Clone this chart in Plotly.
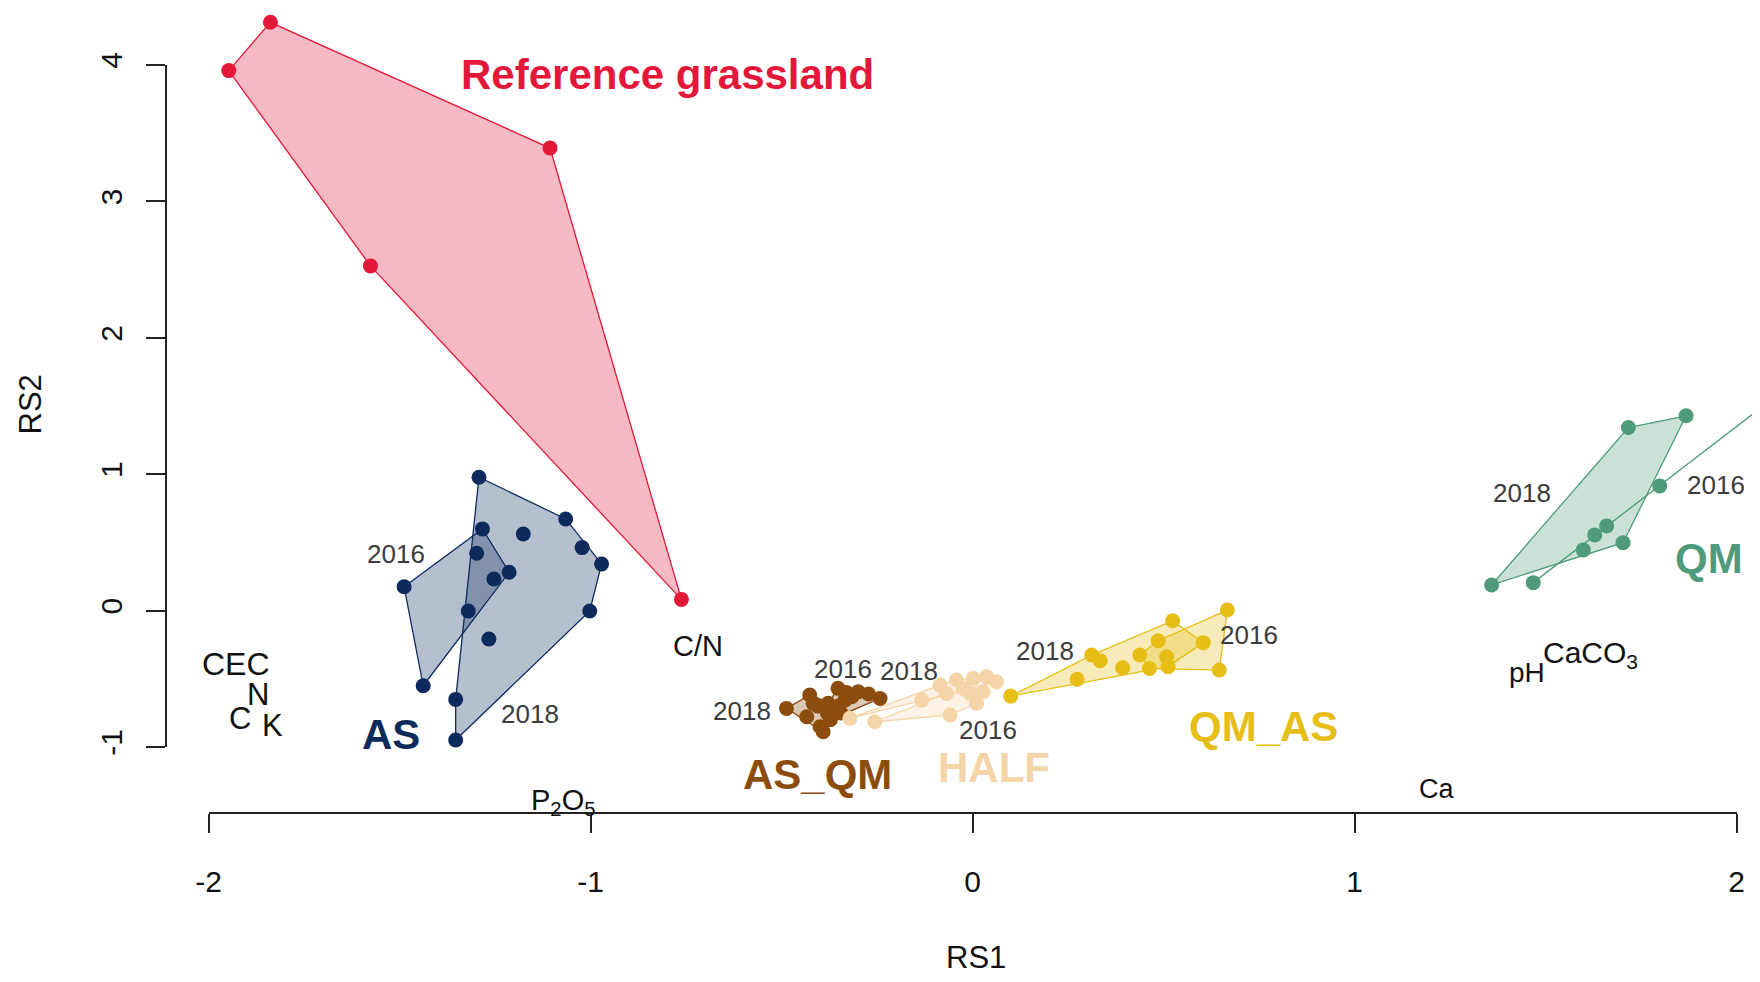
import plotly.graph_objects as go

# ------------------------------------------------------------------ data
REF_X = [-1.838, -1.947, -1.106, -1.576, -0.762]
REF_Y = [4.313, 3.959, 3.391, 2.527, 0.082]

AS16_X = [-1.488, -1.283, -1.213, -1.438, -1.298, -1.253, -1.320]
AS16_Y = [0.175, 0.599, 0.281, -0.551, 0.420, 0.232, -0.003]
AS18_X = [-1.292, -1.065, -1.176, -1.022, -0.971, -1.002, -1.266, -1.353, -1.353]
AS18_Y = [0.978, 0.672, 0.562, 0.462, 0.342, -0.003, -0.208, -0.651, -0.949]

ASQM16_X = [-0.352, -0.299, -0.242, -0.334, -0.378, -0.316, -0.372, -0.330, -0.272, -0.345]
ASQM16_Y = [-0.570, -0.595, -0.644, -0.656, -0.680, -0.632, -0.800, -0.600, -0.612, -0.750]
ASQM18_X = [-0.487, -0.426, -0.434, -0.399, -0.365, -0.417, -0.391, -0.405, -0.380, -0.350]
ASQM18_Y = [-0.717, -0.619, -0.778, -0.852, -0.729, -0.680, -0.888, -0.700, -0.750, -0.700]

HALF16_X = [-0.256, -0.059, 0.011, -0.007, 0.028, -0.068]
HALF16_Y = [-0.815, -0.766, -0.680, -0.607, -0.595, -0.607]
HALF18_X = [-0.321, -0.133, -0.085, -0.042, 0.002, 0.037, 0.063, -0.024]
HALF18_Y = [-0.790, -0.656, -0.546, -0.509, -0.497, -0.485, -0.522, -0.570]

QMAS16_X = [0.667, 0.646, 0.463, 0.438, 0.486, 0.508]
QMAS16_Y = [0.004, -0.436, -0.424, -0.326, -0.221, -0.338]
QMAS18_X = [0.100, 0.524, 0.604, 0.512, 0.274, 0.312, 0.334, 0.393]
QMAS18_Y = [-0.627, -0.074, -0.235, -0.411, -0.504, -0.326, -0.367, -0.419]

QM16_X = [2.042, 1.799, 1.660, 1.629, 1.468]
QM16_Y = [1.440, 0.914, 0.621, 0.555, 0.205]
QM18_X = [1.359, 1.717, 1.868, 1.703, 1.599]
QM18_Y = [0.188, 1.342, 1.428, 0.498, 0.445]

GROUP_NAMES = ["Reference grassland", "AS", "AS_QM", "HALF", "QM_AS", "QM"]
GROUP_COLORS = ["#E3173A", "#0C2B5C", "#8C4C0E", "#F5D4A8", "#E6BE16", "#4F9A7B"]
GROUP_LABEL_X = [-0.798, -1.523, -0.407, 0.057, 0.762, 1.929]
GROUP_LABEL_Y = [3.928, -0.905, -1.202, -1.153, -0.848, 0.379]

YEAR_TEXT = ["2016", "2018", "2016", "2018", "2018", "2016", "2018", "2016", "2018", "2016"]
YEAR_X = [-1.509, -1.159, -0.340, -0.604, -0.166, 0.040, 0.190, 0.724, 1.438, 1.947]
YEAR_Y = [0.412, -0.758, -0.428, -0.733, -0.445, -0.873, -0.296, -0.181, 0.865, 0.922]

ENV_TEXT = ["CEC", "N", "C", "K", "P<sub>2</sub>O<sub>5</sub>", "C/N", "Ca", "pH", "CaCO<sub>3</sub>"]
ENV_X = [-1.928, -1.871, -1.918, -1.832, -1.072, -0.718, 1.215, 1.452, 1.618]
ENV_Y = [-0.390, -0.616, -0.794, -0.841, -1.400, -0.259, -1.306, -0.456, -0.325]
ENV_SIZE = [32, 31, 31, 31, 29, 29, 27, 28, 30]

X_TICKS = [-2, -1, 0, 1, 2]
Y_TICKS = [-1, 0, 1, 2, 3, 4]

FONT = "Liberation Sans, Arial, Helvetica, sans-serif"

# groups -> list of (x, y) point sets (one per sampling year)
GROUP_SETS = [
    [(REF_X, REF_Y)],
    [(AS16_X, AS16_Y), (AS18_X, AS18_Y)],
    [(ASQM16_X, ASQM16_Y), (ASQM18_X, ASQM18_Y)],
    [(HALF16_X, HALF16_Y), (HALF18_X, HALF18_Y)],
    [(QMAS16_X, QMAS16_Y), (QMAS18_X, QMAS18_Y)],
    [(QM16_X, QM16_Y), (QM18_X, QM18_Y)],
]


def hull(xs, ys):
    pts = sorted(set(zip(xs, ys)))
    if len(pts) < 3:
        return pts

    def cross(o, a, b):
        return (a[0] - o[0]) * (b[1] - o[1]) - (a[1] - o[1]) * (b[0] - o[0])

    lower = []
    for p in pts:
        while len(lower) >= 2 and cross(lower[-2], lower[-1], p) <= 0:
            lower.pop()
        lower.append(p)
    upper = []
    for p in reversed(pts):
        while len(upper) >= 2 and cross(upper[-2], upper[-1], p) <= 0:
            upper.pop()
        upper.append(p)
    return lower[:-1] + upper[:-1]


def rgba(hexcol, a):
    h = hexcol.lstrip("#")
    r, g, b = int(h[0:2], 16), int(h[2:4], 16), int(h[4:6], 16)
    return f"rgba({r},{g},{b},{a})"


fig = go.Figure()

# hull polygons
for sets, col in zip(GROUP_SETS, GROUP_COLORS):
    for xs, ys in sets:
        hp = hull(xs, ys)
        hx = [p[0] for p in hp] + [hp[0][0]]
        hy = [p[1] for p in hp] + [hp[0][1]]
        fig.add_trace(go.Scatter(
            x=hx, y=hy, mode="lines", fill="toself",
            fillcolor=rgba(col, 0.3),
            line=dict(color=col, width=1.3),
            hoverinfo="skip", showlegend=False))

# points
for name, sets, col in zip(GROUP_NAMES, GROUP_SETS, GROUP_COLORS):
    for xs, ys in sets:
        fig.add_trace(go.Scatter(
            x=xs, y=ys, mode="markers", name=name, cliponaxis=False,
            marker=dict(color=col, size=15, line=dict(width=0)),
            showlegend=False))

# dummy trace for the R-style axes
fig.add_trace(go.Scatter(x=[X_TICKS[0], X_TICKS[-1]], y=[Y_TICKS[0], Y_TICKS[-1]],
                         xaxis="x2", yaxis="y2", mode="markers",
                         marker=dict(opacity=0), hoverinfo="skip", showlegend=False))

annotations = []
for t, x, y, col in zip(GROUP_NAMES, GROUP_LABEL_X, GROUP_LABEL_Y, GROUP_COLORS):
    annotations.append(dict(x=x, y=y, xref="x", yref="y", text=t, showarrow=False,
                            xanchor="center", yanchor="middle",
                            font=dict(family=FONT, size=42, color=col, weight="bold")))
for t, x, y in zip(YEAR_TEXT, YEAR_X, YEAR_Y):
    annotations.append(dict(x=x, y=y, xref="x", yref="y", text=t, showarrow=False,
                            xanchor="center", yanchor="middle",
                            font=dict(family=FONT, size=26, color="#3c3c3c")))
for t, x, y, s in zip(ENV_TEXT, ENV_X, ENV_Y, ENV_SIZE):
    annotations.append(dict(x=x, y=y, xref="x", yref="y", text=t, showarrow=False,
                            xanchor="center", yanchor="middle",
                            font=dict(family=FONT, size=s, color="#111111")))
annotations.append(dict(x=0.511, y=-0.1801, xref="paper", yref="paper", text="RS1",
                        showarrow=False, xanchor="center", yanchor="middle",
                        font=dict(family=FONT, size=31, color="#111111")))
annotations.append(dict(x=-0.0855, y=0.508, xref="paper", yref="paper", text="RS2",
                        showarrow=False, xanchor="center", yanchor="middle", textangle=-90,
                        font=dict(family=FONT, size=31, color="#111111")))

axis_common = dict(showline=True, linecolor="#222222", linewidth=1.6, ticks="outside",
                   ticklen=19, tickwidth=1.6, tickcolor="#222222", showgrid=False,
                   zeroline=False, anchor="free", position=0, automargin=False,
                   tickfont=dict(family=FONT, size=30, color="#111111"))

fig.update_layout(
    width=1744, height=966,
    margin=dict(l=158, r=0, t=0, b=161, autoexpand=False),
    paper_bgcolor="white", plot_bgcolor="rgba(0,0,0,0)",
    showlegend=False,
    xaxis=dict(range=[-2.1113, 2.0406], visible=False, automargin=False),
    yaxis=dict(range=[-1.4839, 4.4179], visible=False, automargin=False),
    xaxis2=dict(domain=[0.026797, 0.990227], range=[-2, 2], tickvals=X_TICKS,
                ticktext=[str(v) for v in X_TICKS], ticklabelstandoff=23, **axis_common),
    yaxis2=dict(domain=[0.08199, 0.92919], range=[-1, 4], tickvals=Y_TICKS,
                ticktext=[str(v) for v in Y_TICKS], tickangle=-90, ticklabelstandoff=12,
                **axis_common),
    annotations=annotations,
)

fig.write_html("out.html")
